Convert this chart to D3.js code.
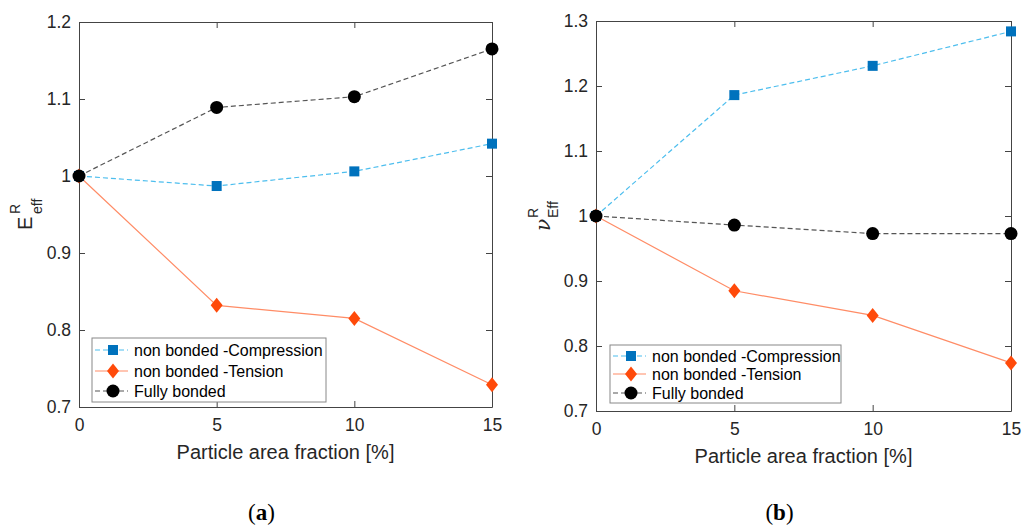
<!DOCTYPE html>
<html>
<head>
<meta charset="utf-8">
<script src="https://cdn.jsdelivr.net/npm/d3@7"></script>
<style>
  body { margin: 0; background: #fff; }
  svg { font-family: 'Liberation Sans', Arial, sans-serif; }
  .axis path, .axis line { stroke: #444; }
  .axis text { fill: #262626; font-size: 17.5px; }
</style>
</head>
<body>
<svg id="chart" width="1022" height="528"></svg>
<script>
const fractions = [0, 5, 10, 15]
const seriesNames = ['non bonded -Compression', 'non bonded -Tension', 'Fully bonded']

// panel (a): E_eff^R
const youngCompression = [1.0, 0.987, 1.006, 1.042]
const youngTension = [1.0, 0.832, 0.815, 0.729]
const youngBonded = [1.0, 1.089, 1.103, 1.165]

// panel (b): nu_Eff^R
const poissonCompression = [1.0, 1.186, 1.231, 1.284]
const poissonTension = [1.0, 0.885, 0.847, 0.774]
const poissonBonded = [1.0, 0.986, 0.973, 0.973]

const xTicks = [0, 5, 10, 15]
const youngTicks = [0.7, 0.8, 0.9, 1.0, 1.1, 1.2]
const poissonTicks = [0.7, 0.8, 0.9, 1.0, 1.1, 1.2, 1.3]

const styles = [
  { line: '#4DBEEE', marker: '#0072BD', dash: '5,3', shape: 'square' },
  { line: '#FF8C66', marker: '#FF4A0A', dash: null, shape: 'diamond' },
  { line: '#555', marker: '#000', dash: '5,3', shape: 'circle' },
]

const svg = d3.select('#chart')

function drawMarker (g, shape, color, cx, cy) {
  if (shape === 'square') {
    g.append('rect')
      .attr('x', cx - 5).attr('y', cy - 5)
      .attr('width', 10).attr('height', 10)
      .attr('fill', color)
  } else if (shape === 'diamond') {
    g.append('path')
      .attr('d', 'M' + cx + ',' + (cy - 7.5) + 'L' + (cx + 6) + ',' + cy +
        'L' + cx + ',' + (cy + 7.5) + 'L' + (cx - 6) + ',' + cy + 'Z')
      .attr('fill', color)
  } else {
    g.append('circle')
      .attr('cx', cx).attr('cy', cy).attr('r', 6.5)
      .attr('fill', color)
  }
}

function drawPanel (p) {
  const x = d3.scaleLinear().domain([0, 15]).range([p.left, p.right])
  const y = d3.scaleLinear().domain(p.yDomain).range([p.bottom, p.top])
  const g = svg.append('g')

  // box + inward ticks on all four sides
  g.append('g').attr('class', 'axis')
    .attr('transform', 'translate(0,' + p.bottom + ')')
    .call(d3.axisBottom(x).tickValues(xTicks).tickSize(-6).tickSizeOuter(0).tickPadding(12))
  g.append('g').attr('class', 'axis')
    .attr('transform', 'translate(0,' + p.top + ')')
    .call(d3.axisTop(x).tickValues(xTicks).tickSize(-6).tickSizeOuter(0).tickFormat(''))
  g.append('g').attr('class', 'axis')
    .attr('transform', 'translate(' + p.left + ',0)')
    .call(d3.axisLeft(y).tickValues(p.yTicks).tickSize(-6).tickSizeOuter(0).tickPadding(8)
      .tickFormat(d => d === 1 ? '1' : d3.format('.1f')(d)))
  g.append('g').attr('class', 'axis')
    .attr('transform', 'translate(' + p.right + ',0)')
    .call(d3.axisRight(y).tickValues(p.yTicks).tickSize(-6).tickSizeOuter(0).tickFormat(''))

  // series
  const line = d3.line()
    .x((d, i) => x(fractions[i]))
    .y(d => y(d))

  const order = [0, 1, 2]
  order.forEach(function (k) {
    const st = styles[k]
    g.append('path')
      .attr('d', line(p.series[k]))
      .attr('fill', 'none')
      .attr('stroke', st.line)
      .attr('stroke-width', 1.2)
      .attr('stroke-dasharray', st.dash)
  })
  order.forEach(function (k) {
    const st = styles[k]
    p.series[k].forEach(function (v, i) {
      drawMarker(g, st.shape, st.marker, x(fractions[i]), y(v))
    })
  })

  // legend
  const lg = g.append('g')
  lg.append('rect')
    .attr('x', p.legend.x).attr('y', p.legend.y)
    .attr('width', p.legend.w).attr('height', p.legend.h)
    .attr('fill', '#fff').attr('stroke', '#888').attr('stroke-width', 1)
  seriesNames.forEach(function (name, k) {
    const st = styles[k]
    const ry = p.legend.y + p.legend.rows[k]
    const lx = p.legend.x + 3
    lg.append('line')
      .attr('x1', lx).attr('x2', lx + 33)
      .attr('y1', ry).attr('y2', ry)
      .attr('stroke', st.line).attr('stroke-width', 1.2)
      .attr('stroke-dasharray', st.dash)
    drawMarker(lg, st.shape, st.marker, lx + 18, ry)
    lg.append('text')
      .attr('x', lx + 39).attr('y', ry + 5.5)
      .attr('font-size', 16).attr('fill', '#000')
      .text(name)
  })

  // x title
  g.append('text')
    .attr('x', (p.left + p.right) / 2).attr('y', p.bottom + 52)
    .attr('text-anchor', 'middle')
    .attr('font-size', 20).attr('fill', '#262626')
    .text('Particle area fraction [%]')

  // y title
  const yl = g.append('g')
    .attr('transform', 'translate(' + p.yLabel.x + ',' + p.yLabel.y + ') rotate(-90)')
  yl.append('text')
    .attr('x', -15).attr('y', 0)
    .attr('font-size', p.yLabel.mainSize).attr('fill', '#262626')
    .attr('font-family', p.yLabel.mainFont)
    .attr('font-style', p.yLabel.mainStyle)
    .text(p.yLabel.main)
  yl.append('text')
    .attr('x', p.yLabel.scriptX).attr('y', p.yLabel.supDy)
    .attr('font-size', 14).attr('fill', '#262626')
    .text('R')
  yl.append('text')
    .attr('x', p.yLabel.scriptX).attr('y', p.yLabel.subDy)
    .attr('font-size', 14).attr('fill', '#262626')
    .text(p.yLabel.sub)

  // caption
  const cap = svg.append('text')
    .attr('x', (p.left + p.right) / 2 - 24).attr('y', 520)
    .attr('text-anchor', 'middle')
    .attr('font-family', "'Liberation Serif', 'DejaVu Serif', serif")
    .attr('font-size', 23).attr('fill', '#000')
  cap.append('tspan').text('(')
  cap.append('tspan').attr('font-weight', 'bold').text(p.caption)
  cap.append('tspan').text(')')
}

drawPanel({
  left: 79, right: 492, top: 22, bottom: 407,
  yDomain: [0.7, 1.2], yTicks: youngTicks,
  series: [youngCompression, youngTension, youngBonded],
  legend: { x: 92, y: 338, w: 234, h: 64, rows: [12, 33, 53] },
  yLabel: { x: 32, y: 215, main: 'E', mainSize: 20, mainFont: null, mainStyle: null,
    scriptX: 1, supDy: -12, subDy: 10, sub: 'eff' },
  caption: 'a',
})

drawPanel({
  left: 596, right: 1011, top: 21, bottom: 411,
  yDomain: [0.7, 1.3], yTicks: poissonTicks,
  series: [poissonCompression, poissonTension, poissonBonded],
  legend: { x: 610, y: 345, w: 231, h: 58, rows: [11, 29, 48] },
  yLabel: { x: 550, y: 216, main: 'ν', mainSize: 20, mainFont: "'DejaVu Serif', serif", mainStyle: 'italic',
    scriptX: -2, supDy: -12, subDy: 8, sub: 'Eff' },
  caption: 'b',
})
</script>
</body>
</html>
